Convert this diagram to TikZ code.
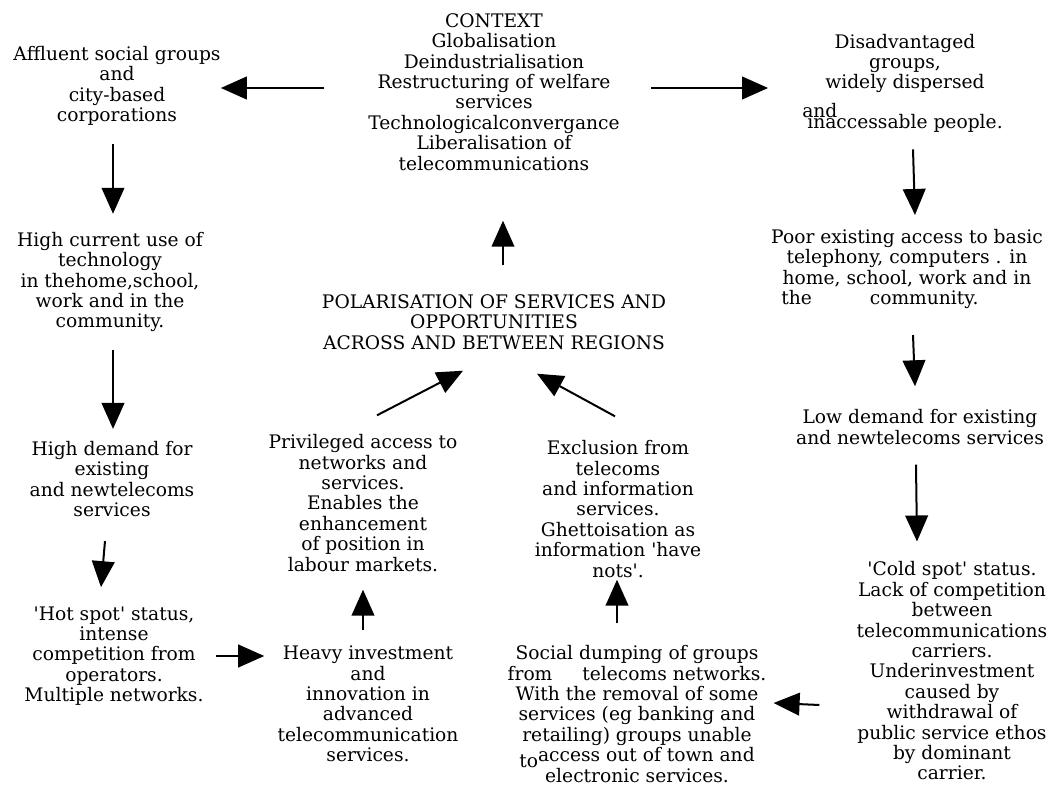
\documentclass[tikz,border=0pt]{standalone}
\usepackage{fontspec}
\setmainfont{DejaVu Serif}
\usetikzlibrary{arrows.meta}

\newcommand{\sq}{\textquotesingle}

\begin{document}
\begin{tikzpicture}[x=0.75pt, y=-0.75pt,
    box/.style={align=center, inner sep=0pt, font=\fontsize{14}{15.3}\selectfont},
    flow/.style={line width=1.5pt, -{Triangle[length=19.5pt, width=17pt]}}]
    \useasboundingbox (0,0) rectangle (1061,787);

    \node[box] (context) at (494, 92) {CONTEXT\\ Globalisation\\ Deindustrialisation\\ Restructuring of welfare\\ services\\ Technologicalconvergance\\ Liberalisation of\\ telecommunications};
    \node[box] (affluent) at (117, 86) {Affluent social groups\\ and\\ city-based\\ corporations};
    \node[box] (hightech) at (110, 282) {High current use of\\ technology\\ in thehome,school,\\ work and in the\\ community.};
    \node[box] (highdemand) at (112, 479) {High demand for\\ existing\\ and newtelecoms\\ services};
    \node[box] (hotspot) at (114, 656) {\sq Hot spot\sq{} status,\\ intense\\ competition from\\ operators.\\ Multiple networks.};
    \node[box] (heavy) at (368, 704) {Heavy investment\\ and\\ innovation in\\ advanced\\ telecommunication\\ services.};
    \node[box] (privileged) at (363, 503) {Privileged access to\\ networks and\\ services.\\ Enables the\\ enhancement\\ of position in\\ labour markets.};
    \node[box] (polar) at (494, 322) {POLARISATION OF SERVICES AND\\ OPPORTUNITIES\\ ACROSS AND BETWEEN REGIONS};
    \node[box] (exclusion) at (618, 509) {Exclusion from\\ telecoms\\ and information\\ services.\\ Ghettoisation as\\ information \sq have\\ nots\sq.};
    \node[box] (social) at (637, 714) {Social dumping of groups\\ from\hspace{1.6em}telecoms networks.\\ With the removal of some\\ services (eg banking and\\ retailing) groups unable\\ \raisebox{-4pt}{to}access out of town and\\ electronic services.};
    \node[box] (coldspot) at (952, 671) {\sq Cold spot\sq{} status.\\ Lack of competition\\ between\\ telecommunications\\ carriers.\\ Underinvestment\\ caused by\\ withdrawal of\\ public service ethos\\ by dominant\\ carrier.};
    \node[box] (lowdemand) at (920, 427) {Low demand for existing\\ and newtelecoms services};
    \node[box] (poor) at (907, 269) {Poor existing access to basic\\ telephony, computers . in\\ home, school, work and in\\ the\hspace{3.1em}community.\hspace*{2.9em}};
    \node[box] (disadv) at (905, 83) {Disadvantaged\\ groups,\\ widely dispersed\hspace*{2.2em}\\[6pt] \makebox[11em][l]{and}\\[-7pt] inaccessable people.};

    \draw[flow] ([shift={(-44,-4)}]context.west) -- ([shift={(0,2)}]affluent.east);
    \draw[flow] ([shift={(31,-4)}]context.east) -- ([shift={(-34,5)}]disadv.west);
    \draw[flow] ([shift={(-4,18)}]affluent.south) -- ([shift={(3,-18)}]hightech.north);
    \draw[flow] ([shift={(3,18)}]hightech.south) -- ([shift={(1,-12)}]highdemand.north);
    \draw[flow] ([shift={(-7,24)}]highdemand.south) -- ([shift={(-13,-19)}]hotspot.north);
    \draw[flow] ([shift={(12,0)}]hotspot.east) -- ([shift={(-13,-48)}]heavy.west);
    \draw[flow] ([shift={(-5,-16)}]heavy.north) -- ([shift={(0,18)}]privileged.south);
    \draw[flow] ([shift={(14,-19)}]privileged.north) -- ([shift={(-31,21)}]polar.south);
    \draw[flow] ([shift={(9,-29)}]polar.north) -- ([shift={(9,50)}]context.south);
    \draw[flow] ([shift={(-20,-22)}]social.north) -- ([shift={(-1,2)}]exclusion.south);
    \draw[flow] ([shift={(-3,-24)}]exclusion.north) -- ([shift={(43,24)}]polar.south);
    \draw[flow] ([shift={(-37,34)}]coldspot.west) -- ([shift={(7,-11)}]social.east);
    \draw[flow] ([shift={(-4,20)}]lowdemand.south) -- ([shift={(-35,-20)}]coldspot.north);
    \draw[flow] ([shift={(6,26)}]poor.south) -- ([shift={(-5,-23)}]lowdemand.north);
    \draw[flow] ([shift={(8,17)}]disadv.south) -- ([shift={(8,-14)}]poor.north);
\end{tikzpicture}
\end{document}
